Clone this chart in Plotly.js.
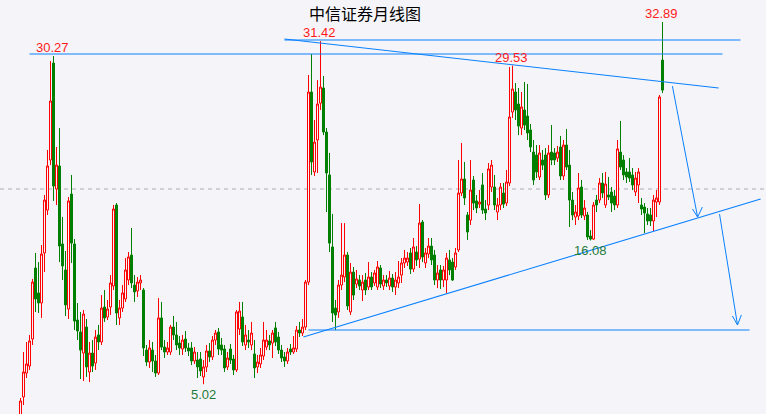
<!DOCTYPE html>
<html>
<head>
<meta charset="utf-8">
<script src="https://cdn.plot.ly/plotly-3.0.1.min.js"></script>
<style>html,body{margin:0;padding:0;background:#f5f5f9;}#chart{width:766px;height:414px;}</style>
</head>
<body>
<div id="chart"></div>
<script>
// ---- data (price values) ----
const open = [2.42,4.04,5.88,6.42,8.50,13.96,12.04,11.27,15.12,18.42,
22.27,29.73,20.04,21.81,15.81,13.81,10.81,19.65,15.81,9.96,
9.04,7.42,9.42,5.96,7.42,6.65,8.81,8.27,10.96,10.19,
10.96,12.58,18.81,10.12,10.88,11.58,13.04,14.96,12.65,12.19,
12.81,12.27,7.65,6.73,7.65,6.81,5.88,10.12,7.88,7.50,
7.50,9.42,8.81,8.19,7.73,8.50,7.81,7.81,6.81,6.88,
6.96,5.58,6.35,7.58,7.12,8.42,9.04,8.04,7.73,6.35,
7.73,6.96,6.12,9.27,10.19,8.04,8.42,8.04,7.35,6.35,
6.58,7.19,7.88,8.35,8.19,9.35,8.65,7.65,7.12,6.81,
7.73,7.50,7.73,9.19,8.96,9.42,12.88,27.50,21.35,23.81,
26.65,27.81,24.42,21.12,15.58,10.88,10.58,12.65,13.27,14.96,
10.58,13.65,12.73,13.04,12.27,13.04,12.50,13.27,12.81,12.50,
13.96,12.58,13.04,12.58,13.19,12.50,12.81,13.42,14.35,14.42,
15.12,13.88,15.19,14.65,17.50,14.35,15.04,15.65,14.96,13.04,
13.81,13.04,13.04,14.58,14.42,14.04,15.35,19.73,20.81,18.04,
17.65,20.73,19.12,18.88,20.35,18.50,18.81,20.19,20.19,18.27,
18.81,19.73,18.96,20.50,25.96,27.50,26.58,24.73,26.12,25.65,
24.58,22.88,22.65,20.96,22.27,22.65,19.58,22.88,22.81,22.42,
23.27,21.04,23.42,21.88,19.19,17.88,17.96,20.19,17.96,18.04,
16.42,16.19,19.19,19.19,20.50,18.81,19.58,19.81,19.50,18.81,
22.88,22.27,21.35,21.35,21.12,19.81,20.35,18.81,18.65,18.12,
18.04,17.58,19.04,19.04,29.96];

const high = [3.96,7.50,8.27,8.81,13.12,15.12,14.42,15.73,19.58,23.04,
29.88,30.27,23.27,24.73,17.88,15.27,19.42,21.12,16.19,11.27,
10.58,10.73,10.04,8.27,8.42,9.19,9.58,11.88,12.27,11.50,
13.42,18.81,18.96,11.50,12.65,14.73,15.19,17.04,13.42,13.27,
13.42,12.42,8.04,8.42,8.27,7.27,11.65,11.35,8.42,8.27,
9.58,10.27,9.81,8.73,8.81,9.12,8.19,8.27,7.88,7.50,
7.50,6.88,8.04,8.19,8.73,9.19,9.35,8.58,8.04,7.50,
8.12,7.27,10.73,11.35,11.35,9.58,9.19,9.81,8.42,7.27,
7.81,9.81,9.19,8.81,9.19,9.81,9.04,8.04,7.50,7.81,
8.12,8.73,9.50,9.81,10.04,13.04,28.81,30.42,25.35,28.42,
31.42,28.73,24.73,22.81,18.12,11.50,13.04,17.42,17.42,15.19,
14.35,14.04,13.81,13.42,13.42,13.58,14.42,13.65,13.81,14.50,
14.19,13.42,13.42,13.73,13.50,13.65,14.50,14.73,15.35,15.19,
15.50,16.27,15.65,18.88,17.65,15.50,16.27,16.27,15.35,14.19,
14.19,14.12,15.12,15.35,14.73,15.50,22.27,23.58,22.12,18.27,
22.27,21.04,19.58,19.96,21.27,19.19,22.04,22.27,21.12,19.35,
20.50,20.50,21.50,29.42,29.53,28.19,27.81,27.50,28.27,28.12,
25.04,23.81,23.42,23.42,23.04,23.19,23.42,24.96,23.19,23.35,
24.12,23.81,24.65,23.04,19.81,18.81,21.27,20.73,19.19,18.27,
16.88,19.04,19.58,20.88,21.27,21.35,20.96,20.19,19.96,23.81,
25.27,22.65,21.65,22.42,21.65,21.35,21.65,19.35,18.96,18.58,
18.58,19.58,19.96,27.27,32.89];

const low = [2.27,3.42,5.50,6.12,8.04,10.58,10.50,10.12,13.65,18.04,
21.88,19.12,18.81,14.42,13.04,10.27,10.04,14.35,9.19,8.42,
5.42,5.27,5.58,5.19,5.96,6.12,7.65,8.04,9.81,9.96,
10.35,12.27,9.58,9.58,10.58,11.35,12.65,12.42,11.35,11.73,
12.27,7.19,6.42,6.27,5.96,5.58,5.73,7.65,7.04,7.27,
7.27,8.42,7.65,7.27,7.27,7.50,7.19,6.50,6.58,5.50,
5.65,5.02,5.96,6.73,6.88,8.04,7.27,7.27,5.96,6.12,
6.58,5.73,5.96,8.81,7.96,7.65,7.81,7.65,5.50,5.88,
6.27,6.88,7.65,7.65,7.04,7.96,7.35,6.73,6.35,6.58,
7.27,7.35,7.50,8.65,8.73,9.19,12.65,21.12,21.04,21.27,
26.12,24.19,18.27,15.19,9.81,9.19,10.12,12.27,12.88,10.73,
10.35,11.50,12.42,12.27,11.42,11.88,12.27,12.27,12.58,12.27,
12.42,12.27,12.50,12.27,12.12,11.88,12.42,12.81,13.96,14.12,
13.50,13.65,14.12,13.96,14.42,13.96,14.73,14.19,12.65,12.42,
12.35,12.50,12.04,13.42,12.96,13.81,15.19,19.50,18.81,16.12,
17.27,18.42,18.19,18.58,18.12,17.65,18.42,19.81,18.42,17.65,
18.42,18.58,18.73,20.27,25.50,25.35,24.19,24.19,24.58,23.81,
22.88,20.35,20.88,20.73,21.50,19.19,19.35,21.88,21.88,22.12,
20.73,20.73,21.50,17.12,17.65,17.27,17.65,17.81,17.65,16.12,
16.08,16.12,18.27,18.96,19.35,18.58,19.19,18.27,18.42,18.58,
21.50,20.73,20.50,20.58,19.96,19.50,18.96,18.04,16.65,17.27,
17.19,16.81,17.88,18.81,27.42];

const close = [3.73,5.96,6.58,8.35,12.88,11.58,11.27,15.04,19.19,21.81,
26.81,20.27,21.88,15.65,14.12,11.12,19.12,15.88,9.88,9.12,
7.65,10.42,6.35,7.42,6.42,8.65,8.27,10.88,10.12,10.81,
12.81,18.50,10.50,10.88,12.04,13.81,14.81,12.81,12.12,12.88,
13.04,7.81,6.73,7.81,6.81,5.88,10.12,7.88,7.50,7.81,
9.42,8.81,8.04,7.81,8.42,7.81,7.58,6.81,7.50,6.35,
6.04,6.35,7.58,7.12,8.42,8.96,7.73,7.65,6.27,7.04,
6.88,6.12,10.58,10.65,8.27,8.81,8.27,8.96,6.27,6.73,
7.27,8.42,8.42,8.04,8.96,8.27,7.65,7.04,6.81,7.50,
7.50,7.81,9.19,8.96,9.42,12.88,27.50,22.12,23.65,26.58,
27.88,24.42,21.27,15.88,10.50,10.35,12.65,13.42,14.96,11.04,
13.65,11.88,13.12,12.58,12.88,12.27,13.27,12.50,13.58,14.04,
12.73,13.04,12.81,13.19,12.50,13.04,13.27,14.35,14.73,14.73,
13.88,15.58,14.58,17.42,14.81,15.12,15.65,14.58,13.04,13.58,
13.04,13.81,14.73,13.81,13.04,15.12,19.73,20.81,19.35,16.73,
19.96,18.96,18.58,19.04,18.42,18.19,21.58,21.88,18.81,18.81,
20.19,18.88,20.58,25.58,27.73,26.12,24.88,26.35,24.96,24.35,
23.27,20.73,21.35,22.81,21.88,19.58,22.81,22.27,22.27,22.88,
21.04,23.42,21.73,19.19,18.04,18.27,20.12,18.04,18.58,16.35,
16.19,18.81,18.81,20.50,19.73,20.42,19.42,18.96,18.81,23.12,
21.73,21.12,20.96,20.88,20.35,20.88,21.35,18.50,18.19,17.58,
17.58,19.19,19.35,27.12,27.65];

const period = close.map((_, i) => i);

// marked extremes: [period index, label]
const peakLabels = [[11, '30.27'], [100, '31.42'], [164, '29.53'], [214, '32.89']];
const troughLabels = [[61, '5.02'], [190, '16.08']];

// drawn trend lines (period index, price)
const resistTop   = [[88, 31.50], [240, 31.50]];
const resist2007  = [[3, 30.42], [234, 30.42]];
const fallingLine = [[88, 31.58], [232.7, 27.81]];
const risingLine  = [[94.3, 8.65], [246.7, 19.27]];
const floorLine   = [[96, 9.19], [243, 9.19]];
const arrow1 = [[217.3, 27.96], [225.7, 17.88]];
const arrow1Head = [[224.0, 18.50], [227.3, 18.65]];
const arrow2 = [[233.0, 18.12], [239.0, 9.58]];
const arrow2Head = [[237.3, 10.27], [240.3, 10.35]];
const midLevel = 20.04;

// ---- drawing ----
const BG = '#f5f5f9';
const BLUE = '#0a80ff';

const trace = {
  type: 'candlestick',
  x: period, open: open, high: high, low: low, close: close,
  increasing: {line: {color: '#ff0000', width: 1}, fillcolor: BG},
  decreasing: {line: {color: '#007f00', width: 1}, fillcolor: '#007f00'},
  whiskerwidth: 0,
  hoverinfo: 'skip'
};

function seg(a, b, color, width, dash) {
  return {type: 'line', xref: 'x', yref: 'y', x0: a[0], y0: a[1], x1: b[0], y1: b[1],
          line: {color: color, width: width, dash: dash || 'solid'}, layer: 'above'};
}

const shapes = [
  {type: 'line', xref: 'paper', yref: 'y', x0: 0, x1: 1, y0: midLevel, y1: midLevel,
   line: {color: '#c4c4ca', width: 1.3, dash: '4px,4px'}, layer: 'below'},
  seg(resistTop[0], resistTop[1], BLUE, 1.1),
  seg(resist2007[0], resist2007[1], BLUE, 1.1),
  seg(fallingLine[0], fallingLine[1], BLUE, 1.1),
  seg(risingLine[0], risingLine[1], BLUE, 1.1),
  seg(floorLine[0], floorLine[1], BLUE, 1.1),
  seg(arrow1[0], arrow1[1], BLUE, 1),
  seg(arrow1[1], arrow1Head[0], BLUE, 1),
  seg(arrow1[1], arrow1Head[1], BLUE, 1),
  seg(arrow2[0], arrow2[1], BLUE, 1),
  seg(arrow2[1], arrow2Head[0], BLUE, 1),
  seg(arrow2[1], arrow2Head[1], BLUE, 1)
];

const annotations = [];
peakLabels.forEach(([i, t]) => {
  annotations.push({x: i - 0.3, y: high[i], xref: 'x', yref: 'y', text: t, showarrow: false,
    xanchor: 'center', yanchor: 'bottom', yshift: 0, borderpad: 0,
    font: {family: 'Liberation Sans, Arial, sans-serif', size: 13, color: '#ff1a1a'}});
});
troughLabels.forEach(([i, t]) => {
  annotations.push({x: i, y: low[i], xref: 'x', yref: 'y', text: t, showarrow: false,
    xanchor: 'center', yanchor: 'top', yshift: -2, borderpad: 0,
    font: {family: 'Liberation Sans, Arial, sans-serif', size: 13, color: '#1f7a3a'}});
});

const layout = {
  width: 766, height: 414,
  margin: {l: 0, r: 0, t: 0, b: 0, pad: 0},
  paper_bgcolor: BG, plot_bgcolor: BG,
  showlegend: false, hovermode: false,
  boxgap: 1 / 3, boxgroupgap: 0,
  title: {text: '中信证券月线图', x: 0.4765, xanchor: 'center', xref: 'paper',
          y: 0.966, yanchor: 'middle', yref: 'container',
          font: {family: 'Noto Sans CJK SC, sans-serif', size: 16, color: '#000000'}},
  xaxis: {range: [-6.8333, 248.5], visible: false, fixedrange: true,
          rangeslider: {visible: false}},
  yaxis: {range: [2.73, 34.58], visible: false, fixedrange: true},
  shapes: shapes,
  annotations: annotations
};

Plotly.newPlot('chart', [trace], layout, {staticPlot: true, displayModeBar: false});
</script>
</body>
</html>
